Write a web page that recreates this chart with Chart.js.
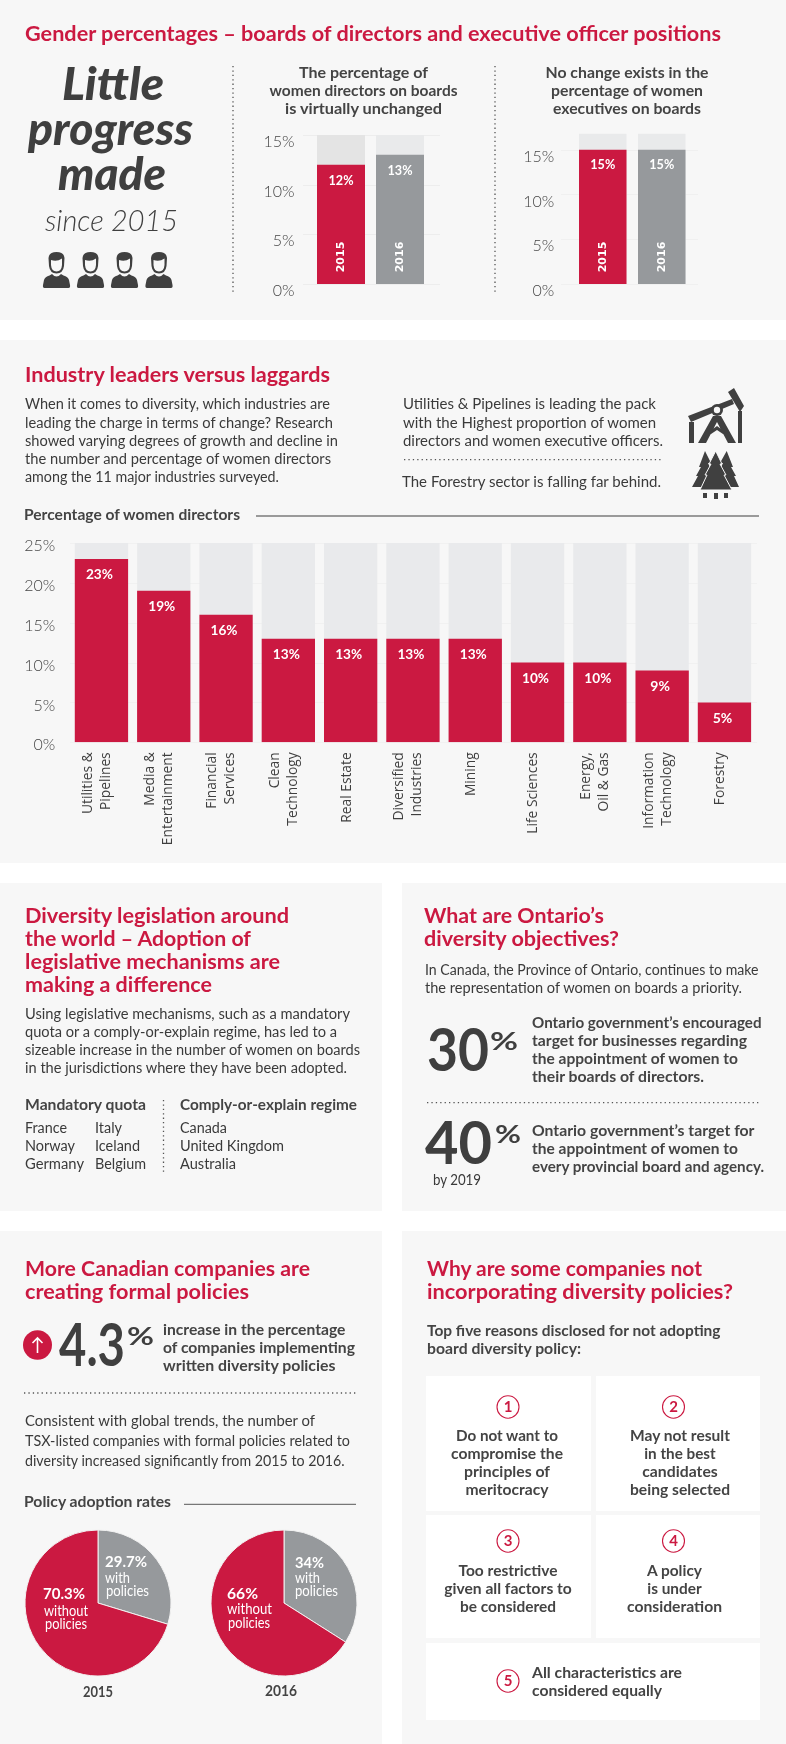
<!DOCTYPE html>
<html><head><meta charset="utf-8">
<script src="https://cdn.jsdelivr.net/npm/chart.js@4"></script>
<style>
html,body{margin:0;padding:0;background:#fff}
#page{position:relative;width:786px;height:1744px;overflow:hidden;background:#fff}
.p{position:absolute;background:#f7f7f7}
.c{position:absolute;background:#fff}
canvas{position:absolute}
svg{position:absolute;left:0;top:0;pointer-events:none}
svg text{font-family:Lato,sans-serif}
</style></head><body><div id="page">
<div class="p" style="left:0;top:0;width:786px;height:320px"></div>
<div class="p" style="left:0;top:340px;width:786px;height:523px"></div>
<div class="p" style="left:0;top:883px;width:382px;height:328px"></div>
<div class="p" style="left:402px;top:883px;width:384px;height:328px"></div>
<div class="p" style="left:0;top:1231px;width:382px;height:513px"></div>
<div class="p" style="left:402px;top:1231px;width:384px;height:513px"></div>
<div class="c" style="left:426px;top:1376px;width:165px;height:135px"></div>
<div class="c" style="left:596px;top:1376px;width:164px;height:135px"></div>
<div class="c" style="left:426px;top:1515px;width:165px;height:123px"></div>
<div class="c" style="left:596px;top:1515px;width:164px;height:123px"></div>
<div class="c" style="left:426px;top:1643px;width:334px;height:77px"></div>
<canvas id="cDirectors" width="200" height="180" style="left:250px;top:120px"></canvas>
<canvas id="cExecutives" width="200" height="180" style="left:510px;top:120px"></canvas>
<canvas id="cIndustries" width="786" height="330" style="left:0;top:530px"></canvas>
<canvas id="cPie2015" width="156" height="156" style="left:20px;top:1525px"></canvas>
<canvas id="cPie2016" width="156" height="156" style="left:206px;top:1525px"></canvas>
<svg id="ov" width="786" height="1744" viewBox="0 0 786 1744" xmlns="http://www.w3.org/2000/svg"></svg>
</div>
<script>
const directorYears=['2015','2016'];
const directorValues=[12,13];
const directorBackdrop=[15,15];
const executiveYears=['2015','2016'];
const executiveValues=[15,15];
const executiveBackdrop=[16.8,16.8];
const industryLabels=[['Utilities &','Pipelines'],['Media &','Entertainment'],['Financial','Services'],['Clean','Technology'],'Real Estate',['Diversified','Industries'],'Mining','Life Sciences',['Energy,','Oil & Gas'],['Information','Technology'],'Forestry'];
const industryValues=[23,19,16,13,13,13,13,10,10,9,5];
const industryBackdrop=[25,25,25,25,25,25,25,25,25,25,25];
const policyLabels=['with policies','without policies'];
const policy2015=[29.7,70.3];
const policy2016=[34,66];

const RED='#cb1941',GREY='#96999c',DARK='#3f3f3f',PANEL='#f7f7f7';
Chart.defaults.font.family='Lato';
Chart.defaults.animation=false;

const wideGrid={id:'wideGrid',beforeDatasetsDraw(ch,a,o){
  const y=ch.scales.y,c=ch.ctx;c.save();c.strokeStyle=o.color;c.lineWidth=1;
  y.ticks.forEach(t=>{const p=Math.round(y.getPixelForValue(t.value))+.5;
    c.beginPath();c.moveTo(o.x0,p);c.lineTo(o.x1,p);c.stroke();});c.restore();}};
const barText={id:'barText',afterDatasetsDraw(ch,a,o){
  const c=ch.ctx,m=ch.getDatasetMeta(1),v=ch.data.datasets[1].data;
  c.save();c.fillStyle='#fff';c.textAlign='center';c.textBaseline='middle';
  m.data.forEach((b,i)=>{
    c.font='700 '+o.size+'px Lato';
    c.fillText(v[i]+'%',b.x+o.dx,b.y+o.drop,o.maxW);
    if(o.years){c.save();c.translate(b.x,ch.scales.y.getPixelForValue(0)-27);c.rotate(-Math.PI/2);
      c.font='bold 11px "DejaVu Sans"';c.fillText(o.years[i],0,0);c.restore();}
  });c.restore();}};
/* two-line category labels sit centred on their bar, as single-line ones do */
const centreLines={id:'centreLines',beforeDraw(ch,a,o){
  if(!o.shift)return;
  ch.scales.x.getLabelItems().forEach(it=>{
    if(Array.isArray(it.label)&&!it.shifted){it.options.translation[0]-=o.shift;it.shifted=true;}
  });}};

function bars(id,labels,values,back,backColors,colors,cfg){
  return new Chart(document.getElementById(id),{type:'bar',
    data:{labels,datasets:[
      {data:back,backgroundColor:backColors,order:2,barPercentage:cfg.bp,categoryPercentage:1},
      {data:values,backgroundColor:colors,order:1,barPercentage:cfg.bp,categoryPercentage:1}]},
    plugins:[wideGrid,barText,centreLines],
    options:{responsive:false,animation:false,
      layout:{padding:cfg.pad},
      datasets:{bar:{grouped:false}},
      plugins:{legend:{display:false},tooltip:{enabled:false},
        wideGrid:{x0:cfg.gx0,x1:cfg.gx1,color:cfg.gc},
        centreLines:{shift:cfg.shift||0},
        barText:{size:cfg.ls,dx:cfg.dx,drop:cfg.drop,maxW:cfg.maxW,years:cfg.years}},
      scales:{
        x:cfg.x,
        y:{min:0,max:cfg.max,
          afterBuildTicks:s=>{s.ticks=s.ticks.filter(t=>t.value%5===0);},
          afterFit:s=>{s.width=cfg.yw;s.paddingTop=0;s.paddingBottom=0;},
          border:{display:false},grid:{display:false},
          ticks:{stepSize:5,includeBounds:false,padding:cfg.tp,labelOffset:cfg.lo,color:'#454545',autoSkip:false,
            font:{size:cfg.ts,weight:'300'},callback:v=>v+'%'}}}}});
}
bars('cDirectors',directorYears,directorValues,directorBackdrop,['#e4e4e4','#e9eaeb'],[RED,GREY],
  {bp:48/59,pad:{left:0,right:20.5,top:15,bottom:16},gx0:53,gx1:190,gc:'#ededed',ls:13,dx:0,drop:16,maxW:25,years:directorYears,
   x:{display:false},max:15,yw:61.5,tp:9,lo:7,ts:16});
bars('cExecutives',executiveYears,executiveValues,executiveBackdrop,['#e9eaeb','#e9eaeb'],[RED,GREY],
  {bp:47.5/59,pad:{left:0,right:18.75,top:13.5,bottom:16},gx0:51,gx1:188,gc:'#f0f0f0',ls:13,dx:0,drop:15,maxW:25,years:executiveYears,
   x:{display:false},max:16.8,yw:63.25,tp:11,lo:7,ts:16});
bars('cIndustries',industryLabels,industryValues,industryBackdrop,'#e9eaec',RED,
  {bp:53.3/62.3,pad:{left:0,right:30.4,top:13,bottom:0},gx0:70,gx1:757,gc:'#f1f1f1',ls:14,dx:-2,drop:16,maxW:27,shift:9.5,
   x:{afterFit:s=>{s.height=117.7;},border:{display:false},grid:{display:false,drawTicks:false},
      ticks:{minRotation:90,maxRotation:90,autoSkip:false,padding:10,labelOffset:-4,color:'#3f3f3f',
        font:{family:'"Open Sans"',size:13.8,weight:'400',lineHeight:1.3}}},
   max:25,yw:70.3,tp:7,lo:3,ts:16});

function pie(id,values){
  return new Chart(document.getElementById(id),{type:'pie',
    data:{labels:policyLabels,datasets:[{data:values,backgroundColor:[GREY,RED],borderColor:'#f1f1f1',borderWidth:1,hoverOffset:0,radius:73}]},
    options:{responsive:false,animation:false,plugins:{legend:{display:false},tooltip:{enabled:false}}}});
}
pie('cPie2015',policy2015);
pie('cPie2016',policy2016);

/* ---------- text and decoration overlay ---------- */
const NS='http://www.w3.org/2000/svg',ov=document.getElementById('ov');
function el(n,a,p){const e=document.createElementNS(NS,n);for(const k in a)e.setAttribute(k,a[k]);(p||ov).appendChild(e);return e;}
function T(s,x,y,size,w,o={}){
  const a={x,y,'font-size':size,fill:o.c||DARK,'font-weight':o.b||400};
  if(o.i)a['font-style']='italic';
  if(o.m)a['text-anchor']='middle';
  if(w){a.textLength=w;a.lengthAdjust='spacingAndGlyphs';}
  el('text',a).textContent=s;
}
const H=(s,x,y,w)=>T(s,x,y,21,w,{c:RED,b:700});
const B=(s,x,y,w)=>T(s,x,y,15.5,w,{c:'#3a3a3a'});
const S=(s,x,y,w,m)=>T(s,x,y,15.5,w,{c:'#444',b:700,m});
function dots(x1,y1,x2,y2){el('line',{x1,y1,x2,y2,stroke:'#555','stroke-width':1.3,'stroke-dasharray':'1.3 3.1'});}

H('Gender percentages – boards of directors and executive officer positions',25,40.5,696);
T('Little',62,100,45,102,{b:900,i:1,c:'#3f3f3f'});
T('progress',28,145,45,165,{b:900,i:1,c:'#3f3f3f'});
T('made',58,190,45,108,{b:900,i:1,c:'#3f3f3f'});
T('since 2015',45,231,29,133,{i:1,b:300,c:'#3f3f3f'});
dots(233,66,233,294);dots(495,66,495,294);
[['The percentage of',129,78],['women directors on boards',188,96],['is virtually unchanged',157,114]].forEach(l=>S(l[0],363.5,l[2],l[1],1));
[['No change exists in the',163,78],['percentage of women',152,96],['executives on boards',148,114]].forEach(l=>S(l[0],627,l[2],l[1],1));

function person(x){const g=el('g',{transform:'translate('+x+',252)',fill:'#404040'});
  el('path',{d:'M5.5 6 Q6 0 13.5 0 Q21 0 21.5 6 L21 14 Q20 21.5 13.5 21.5 Q7 21.5 6 14 Z'},g);
  el('path',{d:'M8 8 Q14 10 19 6.5 L19 13 Q18.5 19.5 13.5 19.5 Q8.5 19.5 8 13 Z',fill:PANEL},g);
  el('path',{d:'M1.5 36 Q-0.5 36 0 33 L1 28 Q2 24.5 6.5 23.5 L9 22 Q13.5 27 18 22 L20.5 23.5 Q25 24.5 26 28 L27 33 Q27.5 36 25.5 36 Z'},g);}
[43,77,111,145.5].forEach(person);

H('Industry leaders versus laggards',25,382,305);
[['When it comes to diversity, which industries are',305],['leading the charge in terms of change? Research',308],['showed varying degrees of growth and decline in',313],['the number and percentage of women directors',306],['among the 11 major industries surveyed.',254]].forEach((l,i)=>B(l[0],25,[409.3,427.6,445.8,463.7,481.6][i],l[1]));
B('Utilities & Pipelines is leading the pack',403,409.3,253);
B('with the Highest proportion of women',403,427.6,253);
B('directors and women executive officers.',403,445.8,260);
dots(404,459.7,662,459.7);
B('The Forestry sector is falling far behind.',402,486.7,259);
const ic=el('g',{transform:'translate(670,380)',fill:'#404040'});
el('path',{d:'M18 36 L62 19 L64 24 L21 42 Z M58 12 L64 8 L74 26 L70 32 Z M28 63 L43 36 L51 36 L66 63 L58 63 L47 42 L36 63 Z M19 42 H24 V63 H19 Z M68 31 H72 V63 H68 Z M39 52 L47 46 L55 52 L56 56 L47 50 L38 56 Z'},ic);
el('circle',{cx:47,cy:30,r:6},ic);el('circle',{cx:47,cy:30,r:3.2,fill:PANEL},ic);
el('path',{d:'M35 71 L41 83 L38 83 L42 92 L39 92 L45 107 L22 107 L28 96 L26 96 L31 87 L29 87 Z M56.7 71 L63 87 L61 87 L66 96 L64 96 L69 107 L47 107 L52 92 L49 92 L53 83 L50 83 Z'},ic);
el('path',{d:'M45.7 71 L52 84 L50 84 L56 95 L54 95 L62 110 L30 110 L37 95 L35 95 L41 84 L39 84 Z',stroke:PANEL,'stroke-width':1},ic);
el('path',{d:'M33 113 H37 V118 H33 Z M44 113 H48 V119 H44 Z M54 113 H58 V118 H54 Z'},ic);
S('Percentage of women directors',24,520,216);
el('line',{x1:256,y1:516,x2:759,y2:516,stroke:'#9a9a9a','stroke-width':2});

H('Diversity legislation around',25,922.7,264);H('the world – Adoption of',25,945.7,226);H('legislative mechanisms are',25,968.7,255);H('making a difference',25,991.7,187);
B('Using legislative mechanisms, such as a mandatory',25,1019,325);
B('quota or a comply-or-explain regime, has led to a',25,1037,312);
B('sizeable increase in the number of women on boards',25,1055,335);
B('in the jurisdictions where they have been adopted.',25,1073,322);
S('Mandatory quota',25,1110,121);S('Comply-or-explain regime',180,1110,177);
[['France',25,42,0],['Italy',95,27,0],['Canada',180,47,0],['Norway',25,50,1],['Iceland',95,45,1],['United Kingdom',180,104,1],['Germany',25,59,2],['Belgium',95,51,2],['Australia',180,56,2]].forEach(l=>B(l[0],l[1],[1133.3,1151.3,1169.3][l[3]],l[2]));
dots(163.5,1100,163.5,1172);
H('What are Ontario’s',424,922.7,180);H('diversity objectives?',424,945.7,195);
B('In Canada, the Province of Ontario, continues to make',425,975,333.5);
B('the representation of women on boards a priority.',425,993,317);
T('30',427,1071,60,62,{b:700});T('%',490,1050,24,28,{b:700});
[['Ontario government’s encouraged',229.5],['target for businesses regarding',215],['the appointment of women to',206],['their boards of directors.',172]].forEach((l,i)=>S(l[0],532,1027.7+18*i,l[1]));
dots(427,1102.7,760,1102.7);
T('40',425,1164,60,67,{b:700});T('%',495,1143,24,26,{b:700});
T('by 2019',433,1185,15,48,{c:'#3a3a3a'});
[['Ontario government’s target for',222.5],['the appointment of women to',206],['every provincial board and agency.',232]].forEach((l,i)=>S(l[0],532,1136+18*i,l[1]));

H('More Canadian companies are',25,1276,285);H('creating formal policies',25,1299,224);
H('Why are some companies not',427,1276,275);H('incorporating diversity policies?',427,1299,306);
el('ellipse',{cx:37.5,cy:1345,rx:14.5,ry:14.7,fill:RED});
el('path',{d:'M37.5 1353 V1338 M32.5 1343 L37.5 1338 L42.5 1343',fill:'none',stroke:'#fff','stroke-width':1.6});
T('4.3',59,1366,60,66,{b:700});T('%',127,1345,24,27,{b:700});
[['increase in the percentage',182.5],['of companies implementing',192],['written diversity policies',172.5]].forEach((l,i)=>S(l[0],163,1334.6+18*i,l[1]));
dots(24,1393,356,1393);
B('Consistent with global trends, the number of',25,1425.5,290);
B('TSX-listed companies with formal policies related to',25,1445.6,325);
B('diversity increased significantly from 2015 to 2016.',25,1465.7,319.5);
S('Policy adoption rates',24,1506.8,147);
el('line',{x1:184,y1:1504.4,x2:356,y2:1504.4,stroke:'#777','stroke-width':1.3});

const W=(s,x,y,w,b)=>T(s,x,y,15,w,{c:'#fff',b:b?700:400});
W(policy2015[0]+'%',105,1566.6,42,1);W('with',105,1583,25);W('policies',106,1596,43);
W(policy2015[1]+'%',43,1599,42,1);W('without',44,1616,44);W('policies',45,1629.4,42);
W(policy2016[0]+'%',295,1567.6,29,1);W('with',295,1583,25);W('policies',295,1596,43);
W(policy2016[1]+'%',227,1598.7,31,1);W('without',227,1614.4,45);W('policies',228,1627.8,42);
S('2015',98,1697,30,1);S('2016',281,1695.6,32,1);

S('Top five reasons disclosed for not adopting',427,1335.6,293.5);
S('board diversity policy:',427,1353.7,154);
function num(n,cx,cy){el('ellipse',{cx,cy,rx:11,ry:11.2,fill:'#fff',stroke:RED,'stroke-width':1.1});
  T(String(n),cx,cy+5.2,15,0,{c:RED,b:700,m:1});}
num(1,508,1407);num(2,673.5,1407);num(3,508,1541);num(4,673.5,1541);num(5,508,1681);
[['Do not want to',102],['compromise the',112],['principles of',86],['meritocracy',83]].forEach((l,i)=>S(l[0],507,1440.6+18.03*i,l[1],1));
[['May not result',100],['in the best',71.5],['candidates',75.5],['being selected',100]].forEach((l,i)=>S(l[0],680,1440.6+18.03*i,l[1],1));
[['Too restrictive',99],['given all factors to',127.5],['be considered',96]].forEach((l,i)=>S(l[0],508,1575.6+18.03*i,l[1],1));
[['A policy',55],['is under',54.5],['consideration',95]].forEach((l,i)=>S(l[0],674.5,1575.6+18.03*i,l[1],1));
S('All characteristics are',532,1678,150);S('considered equally',532,1695.6,130);
</script></body></html>
